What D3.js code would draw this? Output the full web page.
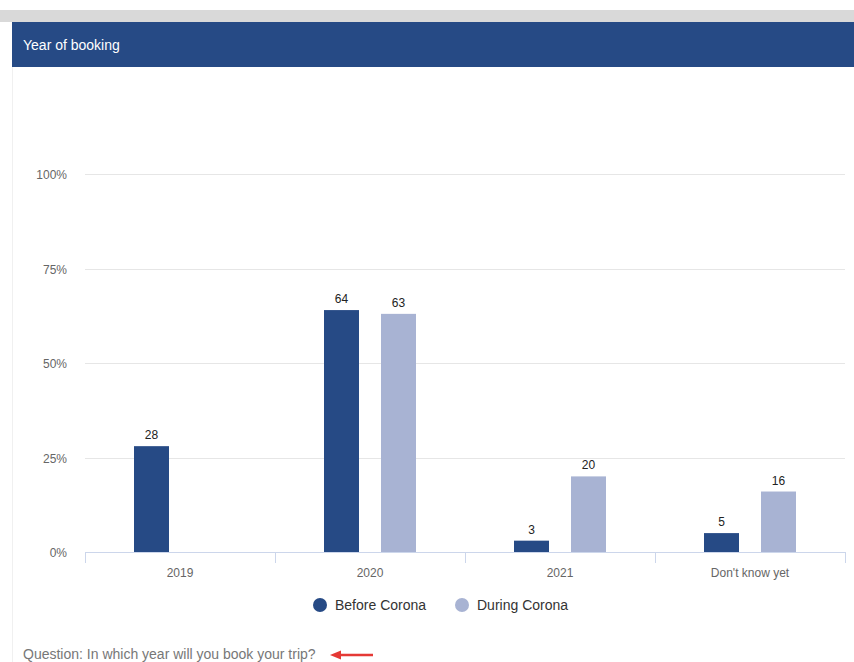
<!DOCTYPE html>
<html>
<head>
<meta charset="utf-8">
<script src="https://cdn.jsdelivr.net/npm/d3@7"></script>
<style>
  body { margin: 0; background: #fff; font-family: "Liberation Sans", Arial, sans-serif; }
  svg { display: block; }
</style>
</head>
<body>
<svg id="chart" width="854" height="662"></svg>
<script>
// Data
var CATEGORIES = ['2019', '2020', '2021', "Don't know yet"];
var SERIES = ['Before Corona', 'During Corona'];
var BEFORE = [28, 64, 3, 5];
var DURING = [null, 63, 20, 16];
var Y_TICKS = [0, 25, 50, 75, 100];
var COLORS = ['#264a85', '#a8b3d3'];

var svg = d3.select('#chart');

// top grey strip + header bar
svg.append('rect').attr('x', 0).attr('y', 10).attr('width', 854).attr('height', 12).attr('fill', '#d9d9d9');
svg.append('line').attr('x1', 12.5).attr('x2', 12.5).attr('y1', 22).attr('y2', 662)
  .attr('stroke', '#f0f0f0');
svg.append('rect').attr('x', 12).attr('y', 22).attr('width', 842).attr('height', 45).attr('fill', '#264a85');
svg.append('text').attr('x', 23).attr('y', 49.5)
  .attr('fill', '#fff').style('font-size', '14px').text('Year of booking');

var margin = {top: 174, left: 85, right: 9, bottom: 110};
var width = 854 - margin.left - margin.right;
var height = 552 - margin.top;

var g = svg.append('g').attr('transform', 'translate(' + margin.left + ',' + margin.top + ')');

var x = d3.scaleBand().domain(CATEGORIES).range([0, width]);
var y = d3.scaleLinear().domain([0, 100]).range([height, 0]);

// gridlines + y labels
g.selectAll('.grid').data(Y_TICKS.slice(1)).enter().append('line')
  .attr('x1', 0).attr('x2', width)
  .attr('y1', function(d) { return Math.round(y(d)) + 0.5; })
  .attr('y2', function(d) { return Math.round(y(d)) + 0.5; })
  .attr('stroke', '#e6e6e6');

g.selectAll('.ylab').data(Y_TICKS).enter().append('text')
  .attr('x', -18).attr('y', function(d) { return y(d) + 5; })
  .attr('text-anchor', 'end').attr('fill', '#666').style('font-size', '12px')
  .text(function(d) { return d + '%'; });

// bars
var offset = 28.5, barW = 35;
var rows = [];
CATEGORIES.forEach(function(c, i) {
  rows.push({cat: c, s: 0, v: BEFORE[i]});
  rows.push({cat: c, s: 1, v: DURING[i]});
});
rows = rows.filter(function(r) { return r.v != null; });

function cx(r) { return x(r.cat) + x.bandwidth() / 2 + (r.s === 0 ? -offset : offset); }

g.selectAll('.bar').data(rows).enter().append('rect')
  .attr('x', function(r) { return cx(r) - barW / 2; })
  .attr('y', function(r) { return y(r.v); })
  .attr('width', barW)
  .attr('height', function(r) { return height - y(r.v); })
  .attr('fill', function(r) { return COLORS[r.s]; });

g.selectAll('.val').data(rows).enter().append('text')
  .attr('x', cx)
  .attr('y', function(r) { return y(r.v) - 7; })
  .attr('text-anchor', 'middle').attr('fill', '#222').style('font-size', '12px')
  .text(function(r) { return r.v; });

// x axis
var xAxis = g.append('g').attr('transform', 'translate(0,' + height + ')');
xAxis.append('line').attr('x1', 0).attr('x2', width).attr('y1', 0.5).attr('y2', 0.5).attr('stroke', '#ccd6eb');
xAxis.selectAll('.tick').data(d3.range(CATEGORIES.length + 1)).enter().append('line')
  .attr('x1', function(i) { return Math.round(i * x.step()) + 0.5; })
  .attr('x2', function(i) { return Math.round(i * x.step()) + 0.5; })
  .attr('y1', 0).attr('y2', 11).attr('stroke', '#ccd6eb');
xAxis.selectAll('.xlab').data(CATEGORIES).enter().append('text')
  .attr('x', function(c) { return x(c) + x.bandwidth() / 2; })
  .attr('y', 25).attr('text-anchor', 'middle').attr('fill', '#666').style('font-size', '12px')
  .text(function(c) { return c; });

// legend
var legend = svg.append('g').attr('transform', 'translate(0,605)');
var legX = [320, 462];
SERIES.forEach(function(s, i) {
  legend.append('circle').attr('cx', legX[i]).attr('cy', 0).attr('r', 7).attr('fill', COLORS[i]);
  legend.append('text').attr('x', legX[i] + 15).attr('y', 5)
    .attr('fill', '#333').style('font-size', '14px').text(s);
});

// question + arrow
svg.append('text').attr('x', 23).attr('y', 659)
  .attr('fill', '#777').style('font-size', '14px').text('Question: In which year will you book your trip?');
svg.append('line').attr('x1', 338).attr('x2', 373).attr('y1', 655).attr('y2', 655)
  .attr('stroke', '#e53935').attr('stroke-width', 2.5);
svg.append('path').attr('d', 'M330,655 L341,650.5 L341,659.5 Z').attr('fill', '#e53935');
</script>
</body>
</html>
